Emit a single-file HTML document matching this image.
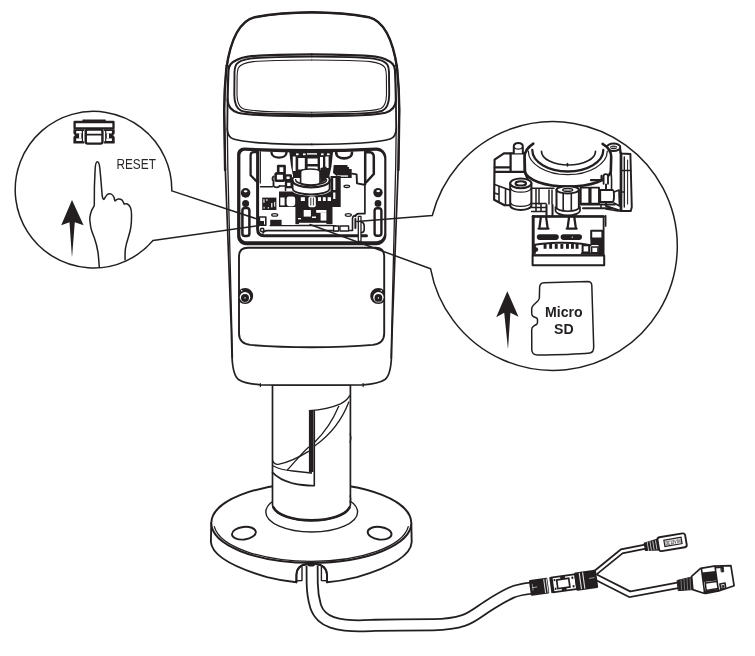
<!DOCTYPE html>
<html><head><meta charset="utf-8">
<style>
html,body{margin:0;padding:0;background:#fff;}
body{width:755px;height:656px;overflow:hidden;font-family:"Liberation Sans",sans-serif;}
svg{display:block;position:absolute;left:0;top:0;}
.k{stroke:#231f20;fill:none;stroke-linecap:round;stroke-linejoin:round;}
.w{fill:#fff;}
.b{fill:#231f20;stroke:none;}
</style></head><body>
<svg width="755" height="656" viewBox="0 0 755 656">
<rect width="755" height="656" fill="#fff"/>

<!-- ===== BASE ===== -->
<g id="base" class="k" stroke-width="1.9">
<path class="w" d="M211.3,523 L210.9,542 C212,556 236,568 267,577.2 C278,580 288,581.6 296.4,582.3 L296.4,575 C296.6,568 301,564.4 307,564.2 L316.5,564.2 C322,564.4 326.8,568 327,575 L327,582.3 C336,581.6 346,580 357,577.2 C388,568 411,556 411.7,542 L411.3,523 Z"/>
<ellipse class="w" cx="311.3" cy="523.1" rx="100" ry="39.8"/>
<path d="M214.3,526.5 A97.5,38.8 0 0 0 408.3,526.5" stroke-width="1.2"/>
<ellipse cx="311.7" cy="512" rx="45.9" ry="20" stroke-width="1.4"/>
<ellipse cx="243.9" cy="533.2" rx="12" ry="6.3" stroke-width="1.9" transform="rotate(-7 243.9 533.2)"/>
<ellipse cx="379.6" cy="533.2" rx="12" ry="6.3" stroke-width="1.9" transform="rotate(7 379.6 533.2)"/>
</g>

<!-- ===== CABLE ===== -->
<g id="cable" fill="none" stroke-linecap="butt">
<path d="M312.1,566 L312.2,583 C312.3,590 312.8,597 315.65,606.5 C317.3,611.3 319.3,614 322,616.5 C325,619.4 328,621 332.1,622.4 C336,623.8 340,624.6 345,625.1 C350,625.6 354,625.85 358.6,625.85 C365,625.85 370,625.5 375,625.3 C395,624.9 415,624.8 433,624.75 C447,624.5 456,623 463.8,620.4 C473,617.3 480,611 487.7,606.1 C496,600.8 503,596.5 511.5,592.6 C518,589.8 524,588.9 531,588.2" stroke="#231f20" stroke-width="12.9"/>
<path d="M312.1,565 L312.2,583 C312.3,590 312.8,597 315.65,606.5 C317.3,611.3 319.3,614 322,616.5 C325,619.4 328,621 332.1,622.4 C336,623.8 340,624.6 345,625.1 C350,625.6 354,625.85 358.6,625.85 C365,625.85 370,625.5 375,625.3 C395,624.9 415,624.8 433,624.75 C447,624.5 456,623 463.8,620.4 C473,617.3 480,611 487.7,606.1 C496,600.8 503,596.5 511.5,592.6 C518,589.8 524,588.9 533,588" stroke="#fff" stroke-width="9.3"/>
</g>
<!-- notch arch redraw -->
<g class="k" stroke-width="1.7">
<path d="M296.4,582.3 L296.4,575 C296.6,570 299,567 302.4,565.6 C304,564.8 306,564.3 308,564.2 L315.5,564.2 C317.5,564.3 319.5,564.8 321,565.6 C324.4,567 326.8,570 327,575 L327,582.3"/>
<path d="M296.4,580.8 L302,580.6 L302,567.4" stroke-width="1.4"/>
<path d="M327,580.8 L321.4,580.6 L321.4,567.4" stroke-width="1.4"/>
<ellipse cx="311.2" cy="564.6" rx="3.9" ry="2" class="b"/>
</g>
<!-- ===== POLE ===== -->
<g id="pole" class="k" stroke-width="1.7">
<path class="w" d="M272.5,385 L272.5,505 A39,16.3 0 0 0 350.4,505 L350.4,385 Z"/>
<path d="M273.6,507.5 A38.5,15.6 0 0 0 349.4,507.5" stroke-width="2.6"/>
</g>

<!-- pole slot & threads -->
<g class="k" stroke-width="1.3">
<path d="M309.4,410.6 C320,410 332,407.5 340.5,403.8 C345,401.6 348,398.5 349.7,395.6"/>
<path d="M338.7,406.3 C333,420 325,432 314.9,442"/>
<path d="M348.8,402 C342,420 330,435 314.9,445.8"/>
<path d="M308.5,451.4 C298,458 288,462.5 278.3,464.3 C275.5,464.6 273.6,463 272.6,460.5"/>
<path d="M308.5,447.2 C300,455 294,463 287.5,469.8"/>
<path d="M273.4,466 C278,468.6 286,470.4 293,471 L311.2,473"/>
<path d="M272.5,472.4 C277,477.5 284,481 293,483.4 C300,485 307,485.6 314.3,485.8 L314.3,411" stroke-width="1.6"/>
<path d="M311.2,471.6 L311.2,473.2" stroke-width="1.2"/>
<path d="M311.2,411 L311.2,472" stroke-width="4.6" stroke-linecap="butt"/>
<path d="M350,434 C351.2,436 351.2,440 350,442 M350,496 C351,497.5 351,500.5 350,502" stroke-width="1.2"/>
</g>

<!-- ===== BODY ===== -->
<g id="body" class="k">
<path class="w" id="bodyout" stroke-width="1.7" d="M311.75,12.30 C290.00,12.50 270.00,14.50 254.70,17.20 C236.00,22.00 229.00,50.00 226.30,68.90 C225.20,80.00 224.30,95.00 224.20,110.00 L225.00,160.00 L231.30,330.00 L232.00,357.00 C232.50,368.00 234.00,376.00 238.50,379.50 C243.00,382.50 252.00,384.30 260.40,384.80 L311.75,385.10 L363.10,384.80 C371.50,384.30 380.50,382.50 385.00,379.50 C389.50,376.00 391.00,368.00 391.50,357.00 L392.20,330.00 L398.50,160.00 L399.30,110.00 C399.20,95.00 398.30,80.00 397.20,68.90 C394.50,50.00 387.50,22.00 368.80,17.20 C353.50,14.50 333.50,12.50 311.75,12.30 Z"/>
<path stroke-width="2.4" d="M225.10,170.00 L224.20,110.00 C224.30,95.00 225.20,80.00 226.30,68.90 C229.00,50.00 236.00,22.00 254.70,17.20 C270.00,14.50 290.00,12.50 311.75,12.30 C333.50,12.50 353.50,14.50 368.80,17.20 C387.50,22.00 394.50,50.00 397.20,68.90 C398.30,80.00 399.20,95.00 399.30,110.00 L398.40,170.00"/>
</g>

<!-- hood / window / face details (left half + mirror) -->
<defs>
<filter id="gs" x="-5%" y="-5%" width="110%" height="110%"><feOffset dx="0" dy="0"/></filter>
<g id="halfL" class="k">
  <!-- B: ring outer, runs down beside hood line, curves into bottom -->
  <path d="M311.8,54.3 C285,54.4 262,55 248,56.6 C240,57.8 234,60.5 230.6,64.3 L229.2,66.8 L228.5,70 C228,80 227.7,92 227.6,100 C227.8,106 231,110.5 238,112.7 C248,114.9 262,115.3 275,115.6 L311.8,116.2" stroke-width="2.2"/>
  <!-- C -->
  <path d="M311.8,56.6 C285,56.7 262,57.3 250,58.6 C243,59.6 238.5,61.5 236.2,64.5 C235,66.5 234.6,69 234.5,72 L234.3,95 C234.4,103 236,108 241,110.7 C247,113.2 262,113.6 275,113.8 L311.8,114.4" stroke-width="1.9"/>
  <!-- D thin -->
  <path d="M311.8,60 C285,60.1 264,60.6 253,61.6 C245,62.6 240.2,64.5 238.3,68 C237.4,70.5 237.2,73 237.1,76 L237,95 C237.2,102 238.5,106.3 242.5,108.6 C248,110.8 262,111.4 275,111.7 L311.8,112.2" stroke-width="1.1"/>
  <!-- E: face line continuing down and curving into bottom face line -->
  <path d="M227.6,99 L227.3,129 C227.6,136 230,138 233.3,139 C245,142.5 270,144.3 311.8,144.4" stroke-width="1.8"/>
  <!-- inner side line -->
  <path d="M227.3,128 L227.8,166 L232.5,358" stroke-width="1.3"/>
  <!-- notch tick -->
  <path d="M226,65.4 L229.6,66.2" stroke-width="1.4"/>
</g>
</defs>
<use href="#halfL"/>
<use href="#halfL" transform="translate(623.5,0) scale(-1,1)"/>

<!-- compartment frame -->
<g class="k" id="comp">
<path d="M237.1,154.5 C237.1,150.7 240.2,147.5 244.1,147.5 Q311.8,150.7 376.4,147.5 C381.9,147.5 386.4,152.0 386.4,157.5 L386.4,235.3 C386.4,240.8 381.9,245.3 376.4,245.3 L246.1,245.3 C241.2,245.3 237.1,241.2 237.1,236.3 Z" fill="#231f20" stroke="none"/>
<path d="M240.4,155.3 C240.4,152.8 242.4,150.8 244.9,150.8 Q312.3,154.2 376.2,150.8 C380.6,150.8 384.2,154.4 384.2,158.8 L384.2,233.3 C384.2,237.7 380.6,241.3 376.2,241.3 L246.4,241.3 C243.1,241.3 240.4,238.6 240.4,235.3 Z" fill="#fff" stroke="none"/>

<path d="M257.6,152 L257.6,229 C257.6,233.8 259.8,235.7 264,235.7 L366.5,235.7" stroke-width="3"/>
<path d="M260.3,152 L260.3,183" stroke-width="1.3"/>
<path d="M263,233 C263.5,231.3 265,230.6 267,230.6 L337.6,230.6" stroke-width="1.7"/>
<path d="M270,225.6 L335.6,225.6" stroke-width="1.1"/>
<path d="M257,152.2 L253.8,152.2 C251.5,152.2 250.6,153.4 250.6,155.4 L250.6,175.3 L257,181.8" stroke-width="2.3"/>
<path d="M365.5,152.2 L369.8,152.2 C372.6,152.4 373.8,154.5 373.8,157 L373.8,174 L366.5,182" stroke-width="2.5"/>
<path d="M365.2,152 L365.2,184" stroke-width="2.5"/>
<path d="M364.9,184 L364.9,213.6 L358.8,213.6 C356.5,213.8 355.6,215 355.3,216.5" stroke-width="1.7"/>
<path d="M352,173.6 L356.6,174.4 L357,183.4 L364.4,184.8" stroke-width="1.9"/>
<circle cx="245.6" cy="192.9" r="4.8" class="b"/><ellipse cx="245.6" cy="191.3" rx="1.9" ry="1.1" fill="#fff" stroke="none"/>
<circle cx="245.6" cy="203.5" r="3.5" class="b"/>
<rect x="242.4" y="208.1" width="7" height="28" rx="2.6" stroke-width="2.5" class="w"/>
<circle cx="378" cy="192.6" r="4.7" class="b"/><ellipse cx="378.2" cy="191.1" rx="1.9" ry="1.1" fill="#fff" stroke="none"/>
<circle cx="378" cy="203.4" r="3.4" class="b"/>
<rect x="374.6" y="208.2" width="6.8" height="27.6" rx="2.6" stroke-width="2.4" class="w"/>
</g>
<!-- INNARDS -->
<g class="k" id="inn" stroke-width="1.3">
<path d="M271.5,152.5 C271.5,159.3 286.5,159.3 286.5,152.5" stroke-width="2.4"/>
<path d="M336.2,152.5 C336.2,160.4 352,160.4 352,152.5" stroke-width="2.6"/>
<path class="b" d="M289.3,152 L333,152 L331.5,166 L329,178 L293.5,178 L291,166 Z"/>
<path class="b" d="M333.7,165 L347.5,165 L347.5,167 L349.1,167 L349.1,169.1 L351.7,169.1 L351.7,178.1 L336.4,178.1 L336.4,175.8 L333,173 Z"/>
<rect x="337" y="175.4" width="11" height="1.3" fill="#fff" stroke="none"/>
<rect x="292.8" y="156.5" width="2.8" height="14.5" fill="#fff" stroke="none" />
<rect x="298.2" y="158.0" width="6.6" height="11.5" fill="#fff" stroke="none" />
<rect x="307.6" y="158.5" width="10.0" height="5.5" fill="#fff" stroke="none" />
<rect x="307.6" y="166.5" width="10.0" height="2.5" fill="#fff" stroke="none" />
<rect x="320.0" y="157.0" width="3.0" height="13.0" fill="#fff" stroke="none" />
<rect x="325.3" y="156.5" width="3.3" height="11.5" fill="#fff" stroke="none" />
<rect x="296.0" y="153.4" width="2.6" height="1.8" fill="#fff" stroke="none" />
<rect x="303.0" y="153.4" width="2.6" height="1.8" fill="#fff" stroke="none" />
<rect x="321.0" y="153.4" width="2.6" height="1.8" fill="#fff" stroke="none" />
<rect x="327.0" y="153.4" width="2.6" height="1.8" fill="#fff" stroke="none" />
<rect x="307.0" y="153.2" width="10.0" height="1.4" fill="#fff" stroke="none" />
<path d="M300.6,171.8 L300.6,182.5 C301,186.5 319.5,186.5 320,182.5 L320,171.8 C319.5,168 301,168 300.6,171.8 Z" fill="#fff" stroke-width="1.6"/>
<path class="b" d="M320.4,168 L326.5,166.5 L326.5,180 L320.4,183.5 Z"/>
<path d="M292.3,180 C292.3,189.8 329.8,189.8 329.8,180" stroke-width="2.2"/>
<path d="M295.6,179.6 C296,186.6 326.2,186.6 326.6,179.6" stroke-width="1.4"/>
<path d="M292.3,180 C292.6,177.6 294.5,176.2 297,175.2" stroke-width="1.8"/>
<path d="M329.8,180 C329.5,177.6 328,176.2 326.5,175.4" stroke-width="1.8"/>
<path d="M292.6,181 L292.6,188.5 C293,196.3 329.2,196.3 329.6,188.5 L329.6,181" stroke-width="1.8"/>
<path class="b" d="M279,191.5 L292.8,191.5 C296,197 326,197 329.4,191.5 L338.5,191.5 L338.5,207 L332.5,207 L332.5,224.3 L295.4,224.3 L295.4,207 L279,207 Z"/>
<rect x="330.5" y="176.0" width="10.2" height="31.0" class="b" />
<rect x="333.2" y="178.0" width="2.2" height="12.0" fill="#fff" stroke="none" />
<rect x="333.2" y="192.5" width="2.2" height="6.5" fill="#fff" stroke="none" />
<rect x="280.3" y="197.5" width="4.3" height="7.9" fill="#fff" stroke="none" />
<rect x="286.6" y="196.6" width="8.6" height="9.6" rx="2.4" fill="#fff" stroke="none"/>
<rect x="300.8" y="197.2" width="4.1" height="3.8" fill="#fff" stroke="none" />
<rect x="308.4" y="196.4" width="7.4" height="10.8" rx="2" fill="#fff" stroke="none"/>
<path d="M310.8,198 L310.8,205 M313.4,198 L313.4,205" stroke-width="0.9"/>
<rect x="318.0" y="197.2" width="3.0" height="3.8" fill="#fff" stroke="none" />
<rect x="322.8" y="197.2" width="3.0" height="3.8" fill="#fff" stroke="none" />
<rect x="327.6" y="197.2" width="3.4" height="3.8" fill="#fff" stroke="none" />
<rect x="303.7" y="210.0" width="7.2" height="6.6" fill="#fff" stroke="none" />
<rect x="316.2" y="210.0" width="10.2" height="2.8" fill="#fff" stroke="none" />
<rect x="320.6" y="212.8" width="5.8" height="7.8" fill="#fff" stroke="none" />
<rect x="298.0" y="218.0" width="3.0" height="1.4" fill="#fff" stroke="none" />
<rect x="299.0" y="222.8" width="27.4" height="1.2" fill="#fff" stroke="none" />
<rect x="312.0" y="216.5" width="4.0" height="1.5" fill="#fff" stroke="none" />
<rect x="278.2" y="166" width="6.4" height="7.6" stroke-width="2.6" class="w"/>
<rect x="275.6" y="173.4" width="8.6" height="7.4" rx="1.5" stroke-width="2.6" class="w"/>
<rect x="285.4" y="175.4" width="5.4" height="4.8" stroke-width="2.3" class="w"/>
<rect x="286" y="181.6" width="5.6" height="5.6" stroke-width="2.3" class="w"/>
<path d="M273.5,176.5 C272.2,177.5 272.2,180 273.5,181 L273.5,186 C275,187.8 278.5,187.8 279.6,186" stroke-width="1.9"/>
<path d="M279.6,186 L285.5,186 L285.5,190.5" stroke-width="1.5"/>
<path d="M260.5,186.7 L272.5,186.7" stroke-width="1.4"/>
<rect x="262.2" y="197.6" width="14.2" height="12.4" class="b" />
<rect x="263.4" y="199.2" width="1.1" height="3.6" fill="#fff" stroke="none" />
<rect x="266.4" y="199.0" width="1.0" height="2.0" fill="#fff" stroke="none" />
<rect x="271.2" y="203.0" width="1.2" height="4.4" fill="#fff" stroke="none" />
<rect x="274.2" y="202.0" width="1.0" height="4.6" fill="#fff" stroke="none" />
<rect x="263.6" y="206.8" width="1.0" height="1.8" fill="#fff" stroke="none" />
<rect x="267.8" y="207.0" width="1.0" height="1.6" fill="#fff" stroke="none" />
<ellipse cx="274.7" cy="214.9" rx="3" ry="1.3" stroke-width="1.3" class="w"/>
<ellipse cx="348.3" cy="215" rx="3" ry="1.3" stroke-width="1.3" class="w"/>
<ellipse cx="346.8" cy="186.3" rx="2.8" ry="1.2" stroke-width="1.3" class="w"/>
<rect x="259.4" y="217" width="6.4" height="8.2" stroke-width="1.6" class="w"/>
<rect x="259.6" y="221.0" width="4.4" height="4.4" class="b" />
<rect x="270.2" y="219.8" width="11.4" height="6.2" class="b" />
<circle cx="262.2" cy="230" r="1.7" stroke-width="1.5"/>
<rect x="333.6" y="226" width="5" height="5" stroke-width="1.4" class="w"/>
<rect x="340" y="226" width="8.6" height="5" stroke-width="1.4" class="w"/>
<path d="M349.5,230.5 L352.5,230.5 L352.5,218.5 C352.5,216.5 354,215.6 355.5,215.4" stroke-width="1.6"/>
<rect x="358.3" y="216.4" width="2.7" height="25" fill="#fff" stroke-width="1.3"/>
<path d="M361.5,222 C363.6,222.5 364.2,224 364.2,226 L364.2,229.5 C364.2,231 363.5,232.4 361.5,232.6" stroke-width="1.6"/>
<path d="M355.4,219 L355.4,228" stroke-width="2"/>
</g>
<!-- /INNARDS -->

<!-- lower panel -->
<g class="k">
<path class="w" d="M248,247.8 L375.4,247.8 C381.2,247.8 384.2,250.8 384.2,256.4 L384.2,333.5 C384.2,340.5 380.6,344 372.8,344.9 C352,346.7 335,347.2 311.6,347.2 C288,347.2 271,346.7 250.4,344.9 C242.6,344 239,340.5 239,333.5 L239,256.4 C239,250.8 242,247.8 248,247.8 Z" stroke-width="1.9"/>
<!-- screws -->
<clipPath id="cpL"><rect x="239" y="280" width="30" height="40"/></clipPath>
<clipPath id="cpR"><rect x="354" y="280" width="30.4" height="40"/></clipPath>
<g stroke="none">
<circle cx="245.1" cy="296" r="8.1" fill="#231f20" clip-path="url(#cpL)"/>
<circle cx="245" cy="297.3" r="5.2" fill="#fff"/>
<circle cx="245" cy="297.9" r="4" fill="#231f20"/>
<rect x="244.4" y="297.3" width="1.2" height="1.2" fill="#fff"/>
<circle cx="241.7" cy="290.8" r="0.75" fill="#fff"/>
<circle cx="378.3" cy="296" r="8.1" fill="#231f20" clip-path="url(#cpR)"/>
<circle cx="378.4" cy="297.3" r="5.2" fill="#fff"/>
<circle cx="378.4" cy="297.9" r="3.9" fill="#231f20"/>
<rect x="377.8" y="297.3" width="1.2" height="1.2" fill="#fff"/>
<circle cx="381.3" cy="290.8" r="0.75" fill="#fff"/>
</g>
<!-- small ticks at body bottom -->
<path d="M260.4,383.6 L260.4,386.6" stroke-width="1.2"/>
<path d="M363.1,383.6 L363.1,386.6" stroke-width="1.2"/>
</g>
<!-- LEFT CALLOUT -->
<g class="k" stroke-width="1.5">
<path d="M259.2,219.7 L171.8,190.9 A78.3,78.3 0 1 0 153.0,240.6 L259.2,225.6"/>
</g>
<!-- RIGHT CALLOUT -->
<g class="k" stroke-width="1.5">
<path d="M357,221.6 L432.3,215.5 A124.4,124.4 0 1 1 430.6,268.8 L310,224.5"/>
</g>
<!-- LEFTCONTENT -->
<g class="k" stroke-width="1.5">
<path d="M99.3,267.3 C98.8,260 98.5,256 98,252.4 C97,246 95.8,242 94.3,237.8 C92.5,233 91.2,230 90.7,226.8 C90,222 89.6,220 89.8,217.7 C90.2,214.5 90.8,212.5 91.6,210.4 C92.6,208 94.3,206.5 94.3,204.9 L94.4,186.6 L95.1,170 C95.3,165 96.2,161.8 97.4,161.8 C98.6,161.8 99.4,164.5 99.8,168 L100.7,177.4 L102.2,195.7 C102.5,198 103.2,199.3 104,199.4 C105,198 105.8,196 107.1,194.8 C108.3,193.6 109.6,193.5 110.8,193.9 C112.5,194.5 113.4,195.8 113.9,197.2 C114.4,198.6 114.5,200 115,200.9 C116,200 117,199.2 118.1,199 C119.4,198.8 120.7,199 121.8,199.8 C123,200.8 123.6,202.6 124.1,204 C125.2,203.7 126.3,203.6 127.3,204 C128.8,204.6 129.8,206 130.4,207.6 C131.2,209.6 131.5,212 131.5,214 C131.6,218.5 131.4,223 130.9,226.8 C130.3,231 129.2,234.5 128.2,237.8 C127,241.5 126,245 125.4,248.8 C124.9,252.5 125,256 125.1,260"/>
</g>
<path class="b" d="M72,200 L83.6,225.3 L74.8,222.2 L72.1,256.6 L71.9,256.6 L69.5,222.2 L61.2,225.3 Z"/>
<g filter="url(#gs)"><text x="116.4" y="169" font-family="Liberation Sans, sans-serif" font-size="14.3" fill="#2b2728" textLength="39.5" lengthAdjust="spacingAndGlyphs">RESET</text></g>
<g class="k" stroke-width="1.9" stroke-linejoin="miter" stroke-linecap="square">
<!-- BTN -->
<rect x="74.6" y="122" width="38.9" height="6.3" class="w" stroke-width="2.3"/>
<path d="M83,120.3 L105.2,120.3" stroke-width="1.5"/>
<g>
<path class="b" d="M73.4,129.3 L84.4,129.3 L84.4,143.5 L73.4,143.5 L73.4,137 L74.9,135.2 L73.4,133.6 Z" stroke="none"/>
<rect x="76.2" y="131" width="5.6" height="2.4" fill="#fff" stroke="none"/>
<rect x="79.1" y="133.3" width="2.2" height="5.2" fill="#fff" stroke="none"/>
<rect x="76.2" y="138.4" width="5.6" height="2.6" fill="#fff" stroke="none"/>
<rect x="83" y="131" width="1.5" height="10.3" fill="#fff" stroke="none"/>
</g>
<g transform="translate(188.1,0) scale(-1,1)">
<path class="b" d="M73.4,129.3 L84.4,129.3 L84.4,143.5 L73.4,143.5 L73.4,137 L74.9,135.2 L73.4,133.6 Z" stroke="none"/>
<rect x="76.2" y="131" width="5.6" height="2.4" fill="#fff" stroke="none"/>
<rect x="79.1" y="133.3" width="2.2" height="5.2" fill="#fff" stroke="none"/>
<rect x="76.2" y="138.4" width="5.6" height="2.6" fill="#fff" stroke="none"/>
<rect x="83" y="131" width="1.5" height="10.3" fill="#fff" stroke="none"/>
</g>
<rect x="85.8" y="129.7" width="16.6" height="13.9" rx="1.8" class="w" stroke-width="2.3" stroke-linejoin="round"/>
<path d="M86.5,134.6 L101.7,134.6" stroke-width="1.8"/><!-- /BTN -->
</g>
<!-- /LEFTCONTENT -->
<!-- RIGHTCONTENT -->
<g class="k" stroke-width="1.5">
<path d="M539.6,287.5 C539.7,284 541,282.8 544,282.7 L587.8,281.4 C590.5,281.4 591.6,282.6 591.8,285.3 L593.7,346.3 C593.8,350.5 592.8,352.6 590,352.9 C575,354.3 555,354.8 537.7,355 C534,355 532,353.5 531.8,350 L531.7,330 C531.7,327.5 532.2,326.8 533.5,326.2 L536.4,324.5 C537.3,324 537.5,323.4 537.5,322.3 L537.5,319.6 C537.5,318.6 537,318.2 536,317.8 L533.6,316.8 C532.2,316.2 531.7,315 531.7,313.3 L531.7,308.8 C531.7,307.3 532.2,306.3 533.4,305.2 L538,300.8 C539,299.8 539.4,298.8 539.4,297.3 Z"/>
</g>
<g filter="url(#gs)" font-family="Liberation Sans, sans-serif" font-weight="bold" font-size="14.1" fill="#231f20" text-anchor="middle">
<text x="563.8" y="317.4">Micro</text>
<text x="563.8" y="334.4">SD</text>
</g>
<path class="b" d="M507.3,291.2 L518.5,316.8 L510.4,312.8 L508.1,348.2 L507.9,348.2 L504.2,312.8 L496.2,317.2 Z"/>
<!-- MODULE -->
<g class="k" stroke-width="1.81">
<path class="w" d="M494.6,159.6 L503.9,153.3 L524.6,153.3 L524.6,172 L528,180 L528,205 L504.5,205.3 L494.1,199.8 Z" stroke-width="2.15"/>
<path d="M494.8,167.3 L510.6,167.3 M510.6,153.6 L510.6,171.6 M495,171.8 L524.6,171.8" stroke-width="2.26"/>
<path d="M494.6,184.5 L509.8,190 M499,187 L499,201.5 M494.3,193 L499,194.6 M505.5,189 L505.5,205" stroke-width="1.58"/>
<path class="w" d="M513.8,153.3 L513.8,146.5 C513.8,141.8 522.8,141.8 522.8,146.5 L522.8,153.3" stroke-width="2.03"/>
<path d="M514.3,147.6 C515.5,149.6 521,149.6 522.3,147.6" stroke-width="1.24"/>
<path class="w" d="M606,146 L619.8,146.5 L621,153.5 L630.4,154 L631.8,207 L630.8,211 L620.8,211 L606,206 Z" stroke-width="1.92"/>
<path d="M621,153.5 L621,210.5" stroke-width="2.71"/>
<path d="M624.3,157 L624.3,207 M621.5,170.4 L630.6,170.4 M621.5,192 L624.3,192" stroke-width="1.47"/>
<path d="M627.6,160 L627.6,204" stroke-width="1.02"/>
<ellipse cx="613.6" cy="147.2" rx="6.7" ry="3.7" class="w" stroke-width="2.03"/>
<ellipse cx="613.6" cy="147.3" rx="3.6" ry="1.9" class="b"/>
<path d="M611,147.3 L616.2,147.3" stroke="#fff" stroke-width="0.79"/>
<path d="M607.2,148.5 L607,153.5 M620,148.5 L620.2,153" stroke-width="1.69"/>
<path class="w" d="M533.3,143.6 C528,147 524.6,152 524.6,157 L525,171.6 A43,16 0 0 0 610.8,171.6 L611.2,157 C611.2,152 608,147 602.6,143.8 Z" stroke="none"/>
<path d="M533.3,143.6 C528,147 524.6,152 524.6,157 L525,171.6 A43,16 0 0 0 610.8,171.6 L611.2,157 C611.2,152 608,147 602.6,143.8" stroke-width="2.60"/>
<path d="M528.3,151 A39.5,23.6 0 0 0 607.3,151" stroke-width="1.24"/>
<path d="M532.3,150 A35.5,21.5 0 0 0 603.3,150" stroke-width="2.26"/>
<path d="M541.5,151.4 A27,13.6 0 0 0 595.5,151.4" stroke-width="1.69"/>
<path d="M567.5,163.6 L567.5,166" stroke-width="1.58"/>
<path d="M591,180.2 L601.6,180.2 L601.6,176" stroke-width="2.26"/>
<path class="w" d="M603.6,183.8 L603.6,176 C603.6,173.4 608,173.4 608,176 L608,183.8" stroke-width="1.81"/>
<path d="M610.8,171.6 C612,176 611.5,186 611.5,189.5" stroke-width="1.58"/>
<rect class="w" x="580.7" y="187.6" width="8.6" height="16" stroke-width="1.92"/>
<rect class="w" x="590.6" y="187.6" width="8.4" height="16" stroke-width="1.92"/>
<path class="w" d="M600.2,190 L612.5,190 C614.4,190 614.6,202 612.5,202 L600.2,202 Z" stroke-width="1.92"/>
<path d="M614,192 L619,190 L619.5,206 L614,203" stroke-width="1.69"/>
<path d="M580.7,204.6 L614.9,204.6 M583,208.3 L612,208.3" stroke-width="2.03"/>
<path d="M601,204.6 L601,208 M606,209 L618,211" stroke-width="1.58"/>
<path class="w" d="M510.2,183.4 L510.2,205.5 A10.6,4.4 0 0 0 531.4,205.5 L531.4,183.4 Z" stroke-width="2.03"/>
<ellipse class="w" cx="520.8" cy="183.3" rx="10.6" ry="4.9" stroke-width="2.03"/>
<ellipse cx="520.8" cy="183.4" rx="5.2" ry="2.1" stroke-width="2.15"/>
<path d="M510.6,188.5 A10.4,4.6 0 0 0 531,188.5 M510.6,203 A10.4,4.2 0 0 0 531,203" stroke-width="1.24"/>
<path d="M531.6,188.2 L554,188.2 M536,188.4 L536,204 M539,188.4 L539,204 M549,190 L549,204 M552,190 L552,204" stroke-width="1.47"/>
<path d="M531.6,203.5 L546,203.5 M531.6,207.5 L546,207.5 M536,203.5 L536,211.5 M541,203.5 L541,211.5 M531.6,211.5 L546,211.5" stroke-width="1.58"/>
<path d="M546.5,205 L546.5,215 M552.5,205 L552.5,215" stroke-width="2.03"/>
<path class="w" d="M556.5,190 L556.5,209 A11.2,4.6 0 0 0 578.9,209 L578.9,190 Z" stroke-width="2.03"/>
<ellipse class="w" cx="567.7" cy="189.8" rx="11.2" ry="3.6" stroke-width="2.03"/>
<ellipse cx="567.7" cy="189.9" rx="5" ry="1.4" stroke-width="1.36"/>
<path d="M563.2,193.5 L563.2,210 M571.3,193.5 L571.3,210" stroke-width="1.58"/>
<path d="M555.5,207 A12.4,5 0 0 0 580,207 L580,211 A12.4,5.2 0 0 1 555.5,211 Z" class="w" stroke-width="1.69"/>
<rect class="w" x="533" y="216.4" width="70.6" height="38.8" stroke-width="1.81"/>
<path d="M533,216.4 L603.6,216.4" stroke-width="2.49"/>
<path d="M533.2,216.4 L533.2,255" stroke-width="2.94"/>
<rect class="w" x="532.6" y="255.4" width="71.6" height="9.8" stroke-width="2.03"/>
<path d="M605.6,215.8 L605.6,226" stroke-width="1.69"/>
<path d="M540.9,217 L539.3,228.6 M546.1,217 L547.7,228.6 M538.5,228.6 L548.5,228.6" stroke-width="2.26"/>
<path d="M569.1,217 L567.5,228.6 M574.3,217 L575.9,228.6 M566.7,228.6 L576.7,228.6" stroke-width="2.26"/>
<rect class="b" x="536.8" y="234.3" width="22" height="5.6" rx="2.8"/>
<rect class="b" x="560.6" y="234.3" width="21.4" height="5.6" rx="2.8"/>
<circle cx="572.3" cy="237.2" r="0.6" fill="#fff" stroke="none"/>
<path d="M535,244.8 C548,242.4 568,242 581.3,243.8 L590.5,245.2" stroke-width="2.03"/>
<rect class="b" x="543.6" y="244" width="2.9" height="4.8"/>
<rect class="b" x="549.2" y="244" width="2.9" height="4.8"/>
<rect class="b" x="554.8" y="244" width="2.9" height="4.8"/>
<rect class="b" x="560.4" y="244" width="2.9" height="4.8"/>
<rect class="b" x="566.0" y="244" width="2.9" height="4.8"/>
<rect class="b" x="571.0" y="244" width="2.9" height="4.8"/>
<rect class="b" x="575.6" y="244" width="2.9" height="4.8"/>
<circle cx="535.8" cy="249.6" r="2.4" class="b"/>
<path d="M535,245 L535,253" stroke-width="1.81"/>
<rect class="w" x="591.2" y="230.8" width="11.2" height="7.6" stroke-width="2.03"/>
<rect class="b" x="590.4" y="238.4" width="13" height="6.6"/>
<rect class="b" x="598.4" y="238.4" width="5" height="16.6"/>
<rect class="w" x="591.6" y="247" width="6.4" height="5.8" stroke-width="1.58"/>
<rect class="w" x="582.6" y="245.2" width="6.6" height="7.4" stroke-width="2.03"/>
<path d="M581.6,253.3 L603,253.3" stroke-width="1.81"/>
</g>
<!-- /MODULE -->
<!-- /RIGHTCONTENT -->
<!-- CONNECTORS -->
<path d="M595,573.1 L621.8,551.3 L645.5,546.6" fill="none" stroke="#231f20" stroke-width="5.8" stroke-linecap="butt" stroke-linejoin="miter"/>
<path d="M595,573.1 L621.8,551.3 L645.5,546.6" fill="none" stroke="#fff" stroke-width="2.3" stroke-linecap="butt" stroke-linejoin="miter"/>
<path d="M595.5,576.9 L629.8,594.3 L679,585.1" fill="none" stroke="#231f20" stroke-width="7.2" stroke-linecap="butt" stroke-linejoin="miter"/>
<path d="M595.5,576.9 L629.8,594.3 L679,585.1" fill="none" stroke="#fff" stroke-width="3.7" stroke-linecap="butt" stroke-linejoin="miter"/>
<g transform="translate(529.9,588.1) rotate(-8)">
<rect x="0" y="-7.9" width="18.6" height="15.8" rx="1.2" fill="#231f20"/>
<rect x="20.6" y="-8" width="3" height="16" fill="#231f20"/>
<rect x="23" y="-7.5" width="23.6" height="15" fill="#fff" stroke="#231f20" stroke-width="1.8"/>
<rect x="45.8" y="-9.2" width="22" height="18.4" rx="1.2" fill="#231f20"/>
<rect x="14.4" y="-7" width="1" height="14" fill="#fff" opacity="0.85"/>
<rect x="16.9" y="-7" width="1" height="14" fill="#fff" opacity="0.85"/>
<rect x="2.4" y="-0.6" width="5" height="0.9" fill="#fff" opacity="0.8"/>
<rect x="2.4" y="-4" width="0.9" height="7" fill="#fff" opacity="0.5"/>
<rect x="50.4" y="-8.2" width="1.1" height="16.4" fill="#fff" opacity="0.85"/>
<rect x="53.8" y="-8.2" width="1.1" height="16.4" fill="#fff" opacity="0.85"/>
<rect x="60" y="-1.8" width="5.5" height="0.9" fill="#fff" opacity="0.7"/>
<rect x="27.6" y="-4.4" width="12.2" height="8.8" fill="#fff" stroke="#231f20" stroke-width="1.7"/>
<rect x="31.4" y="-7.4" width="4.8" height="3" fill="#231f20"/>
<rect x="31.4" y="4.4" width="4.8" height="3" fill="#231f20"/>
<rect x="42.6" y="-5.6" width="1.8" height="2.4" fill="#231f20"/>
<rect x="42.6" y="3" width="1.8" height="2.4" fill="#231f20"/>
<rect x="24.6" y="-5.6" width="1.6" height="2.2" fill="#231f20"/>
<rect x="24.6" y="3.2" width="1.6" height="2.2" fill="#231f20"/>
</g>
<g transform="translate(644.3,546.9) rotate(-9.5)">
<path d="M0,-4.2 L14.5,-6 L14.5,6 L0,4.2 Z" fill="#231f20"/>
<rect x="3.2" y="-4.6" width="0.9" height="9.2" fill="#fff" opacity="0.75"/>
<rect x="6.0" y="-4.6" width="0.9" height="9.2" fill="#fff" opacity="0.75"/>
<rect x="8.8" y="-4.6" width="0.9" height="9.2" fill="#fff" opacity="0.75"/>
<rect x="11.6" y="-4.6" width="0.9" height="9.2" fill="#fff" opacity="0.75"/>
<rect x="14.2" y="-7" width="28" height="14" rx="2.2" fill="#fff" stroke="#231f20" stroke-width="1.9"/>
<rect x="20.4" y="-3.4" width="17.4" height="6.4" fill="#fff" stroke="#231f20" stroke-width="1.2"/>
<g filter="url(#gs)"><text x="21.4" y="1.9" font-family="Liberation Sans, sans-serif" font-size="5.2" font-weight="bold" fill="#231f20" textLength="15.4" lengthAdjust="spacingAndGlyphs">DC12V IN</text></g>
</g>
<g class="k" stroke-width="1.7">
<path d="M677.4,580.4 L691.8,577 L692.8,589.6 L678.6,590.6 Z" fill="#231f20" stroke="#231f20" stroke-width="1"/>
<path d="M681.0,579.8 L681.6,589.6" stroke="#fff" stroke-width="0.7" opacity="0.55"/>
<path d="M684.0,579.1 L684.6,589.5" stroke="#fff" stroke-width="0.7" opacity="0.55"/>
<path d="M687.0,578.5 L687.6,589.3" stroke="#fff" stroke-width="0.7" opacity="0.55"/>
<path d="M690.0,577.8 L690.6,589.2" stroke="#fff" stroke-width="0.7" opacity="0.55"/>
<path class="w" d="M691.6,576.4 L700,568.9 C700.6,568.4 701.2,568.2 702,568.1 L714,566.2 L730.9,565.6 L734.1,585.7 L718.7,591 L706,593.3 C704.8,593.5 703.9,593.3 703,593 L692.8,589.6 Z"/>
<path d="M701.4,568.4 L704.6,592.8" stroke-width="1.6"/>
<path d="M715,566.4 L718.4,590.6" stroke-width="1.6"/>
<path d="M702,572.6 L715.6,570.9 L716.8,580.4 L703.2,582 Z" fill="#231f20" stroke="none"/>
<path d="M705.4,583 L716.8,581.4 M706,590.6 L718,588.6 M705.2,582 L706.4,592.6" stroke-width="1.5"/>
<path d="M704.6,592.2 L718.6,590" stroke-width="2.2"/>
<path d="M720.8,566.6 L723.2,566.4 L723.8,571.8 L721.6,572 Z" fill="#231f20" stroke-width="0.8"/>
<path d="M716,567.8 L721,567.2" stroke-width="1.6"/>
<path d="M720,584 L725,583 L725.6,588.2 L720.8,589.4 Z" stroke-width="1.7"/>
<path d="M722,585.6 L723.8,585.3 L724,587.2 L722.3,587.6 Z" fill="#231f20" stroke-width="0.6"/>
</g>
<!-- /CONNECTORS -->
</svg>
</body></html>
